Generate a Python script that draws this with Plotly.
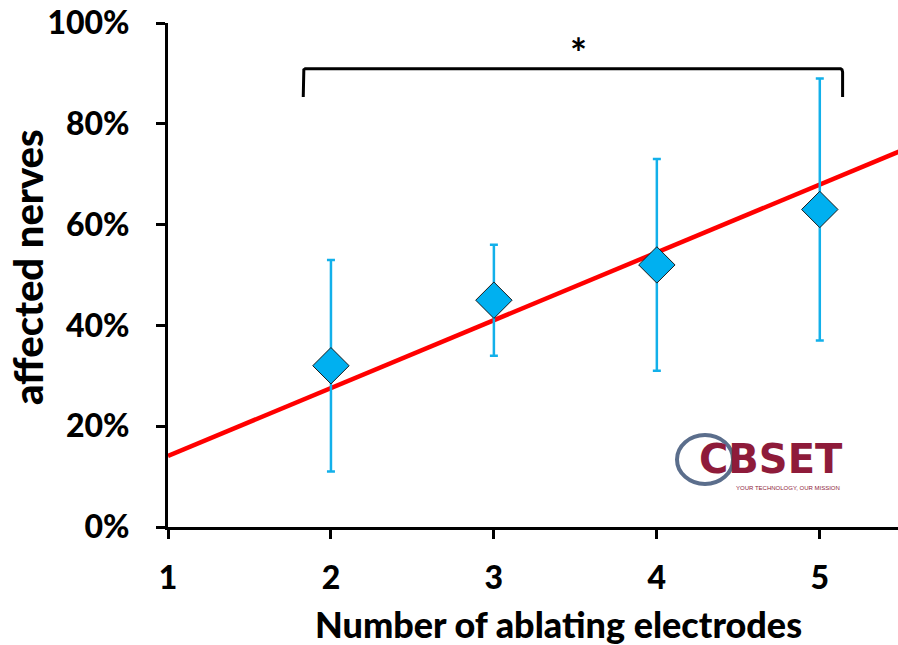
import plotly.graph_objects as go

# Data
electrodes = [2, 3, 4, 5]
affected = [0.32, 0.45, 0.52, 0.63]
err = [0.21, 0.11, 0.21, 0.26]
trend_x = [1.0, 5.6]
trend_intercept_at_1 = 0.141
trend_slope = 0.1346
trend_y = [trend_intercept_at_1 + trend_slope * (x - 1) for x in trend_x]
x_ticks = [1, 2, 3, 4, 5]
y_ticks = [0, 0.2, 0.4, 0.6, 0.8, 1.0]
y_ticklabels = ["0%", "20%", "40%", "60%", "80%", "100%"]
bracket_x = [1.83, 5.14]
bracket_y = [0.853, 0.909]
star_pos = (3.52, 0.94)

FONT = "Lato"
BLUE = "#12B0EA"

# pixel helpers for paper-anchored decorations (plot area: x 168..898, y 23..527)
def px(x):
    return (x - 168) / 730


def py(y):
    return (527 - y) / 504


fig = go.Figure()

fig.add_trace(go.Scatter(
    x=trend_x, y=trend_y, mode="lines",
    line=dict(color="#FF0000", width=4.5), showlegend=False, hoverinfo="skip"))

fig.add_trace(go.Scatter(
    x=electrodes, y=affected, mode="markers",
    marker=dict(symbol="diamond", size=28, color="#00B0F0",
                line=dict(color="#1a1a1a", width=1)),
    error_y=dict(type="data", array=err, visible=True, color=BLUE,
                 thickness=2.5, width=4),
    showlegend=False))

# Significance bracket (slightly rounded corners)
dx, dy = 0.012, 0.006
fig.add_trace(go.Scatter(
    x=[bracket_x[0], bracket_x[0], bracket_x[0] + dx * 0.3, bracket_x[0] + dx,
       bracket_x[1] - dx, bracket_x[1] - dx * 0.3, bracket_x[1], bracket_x[1]],
    y=[bracket_y[0], bracket_y[1] - dy, bracket_y[1] - dy * 0.3, bracket_y[1],
       bracket_y[1], bracket_y[1] - dy * 0.3, bracket_y[1] - dy, bracket_y[0]],
    mode="lines", line=dict(color="black", width=3),
    showlegend=False, hoverinfo="skip", cliponaxis=False))
fig.add_annotation(x=star_pos[0], y=star_pos[1], text="<b>*</b>", showarrow=False,
                   xanchor="center", yanchor="middle",
                   font=dict(family=FONT, size=40, color="black"))

# Logo (approximation)
fig.add_shape(type="circle", xref="paper", yref="paper",
              x0=px(677), x1=px(733), y0=py(484), y1=py(435),
              line=dict(color="#5B6E8C", width=4))
fig.add_annotation(xref="paper", yref="paper", x=px(771), y=py(459),
                   xanchor="center", yanchor="middle",
                   text="<b>CBSET</b>", showarrow=False,
                   font=dict(family="DejaVu Sans", size=40, color="#8E1B3A"))
fig.add_annotation(xref="paper", yref="paper", x=px(788), y=py(488),
                   xanchor="center", yanchor="middle",
                   text="YOUR TECHNOLOGY, OUR MISSION", showarrow=False,
                   font=dict(family="Liberation Sans", size=6, color="#8E1B3A"))

# Axis titles
fig.add_annotation(xref="paper", yref="paper", x=px(558), y=py(624),
                   xanchor="center", yanchor="middle", showarrow=False,
                   text="Number of ablating electrodes",
                   font=dict(family=FONT, size=36, color="black", weight=900))
fig.add_annotation(xref="paper", yref="paper", x=px(28), y=py(267),
                   xanchor="center", yanchor="middle", showarrow=False, textangle=-90,
                   text="affected nerves",
                   font=dict(family=FONT, size=40, color="black", weight=900))

fig.update_layout(
    width=898, height=645,
    margin=dict(l=168, r=0, t=23, b=118),
    paper_bgcolor="white", plot_bgcolor="white",
    font=dict(family=FONT, color="black"),
    xaxis=dict(range=[1, 5.48], tickvals=x_ticks, ticks="outside", ticklen=9,
               tickwidth=3, tickcolor="black", showline=True, linewidth=3,
               linecolor="black", showgrid=False, zeroline=False,
               tickfont=dict(family=FONT, size=32, color="black", weight=900),
               ticklabelstandoff=12),
    yaxis=dict(range=[0, 1], tickvals=y_ticks, ticktext=y_ticklabels, ticks="outside",
               ticklen=9, tickwidth=3, tickcolor="black", showline=True, linewidth=3,
               linecolor="black", showgrid=False, zeroline=False,
               tickfont=dict(family=FONT, size=32, color="black", weight=900),
               ticklabelstandoff=20),
)

fig.write_html("out.html")
